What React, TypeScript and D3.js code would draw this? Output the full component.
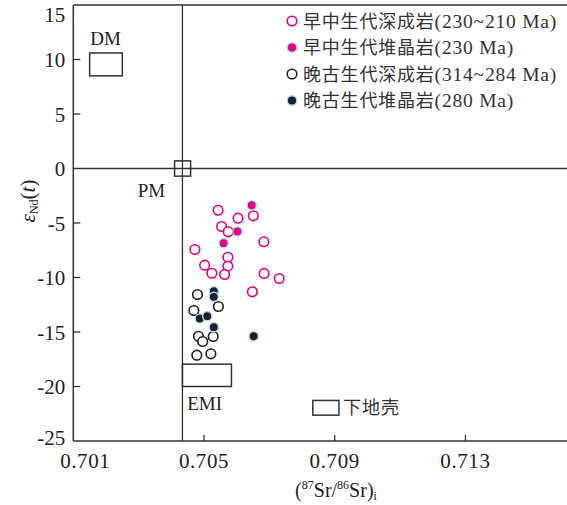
import React from "react";
import * as d3 from "d3";

// ---- data ----
// [87Sr/86Sr(i), εNd(t)]
const mesoPlutonic: [number, number][] = [
  [0.70543, -3.83], [0.70651, -4.34], [0.70604, -4.56], [0.70554, -5.32],
  [0.70574, -5.81], [0.70683, -6.72], [0.70472, -7.43], [0.70573, -8.14],
  [0.70502, -8.87], [0.70573, -8.96], [0.70524, -9.61], [0.70563, -9.72],
  [0.70684, -9.63], [0.7073, -10.09], [0.70648, -11.31],
];
const mesoCumulate: [number, number][] = [
  [0.70646, -3.37], [0.70602, -5.78], [0.7056, -6.85],
];
const paleoPlutonic: [number, number][] = [
  [0.7048, -11.56], [0.70544, -12.66], [0.70469, -13.03], [0.70483, -15.39],
  [0.70496, -15.87], [0.70528, -15.41], [0.70478, -17.13], [0.70521, -17.0],
];
const paleoCumulate: [number, number][] = [
  [0.7053, -11.26], [0.7053, -11.77], [0.70487, -13.76], [0.7051, -13.55],
  [0.7053, -14.56], [0.70652, -15.39],
];

const legendNames = [
  "早中生代深成岩(230~210 Ma)",
  "早中生代堆晶岩(230 Ma)",
  "晚古生代深成岩(314~284 Ma)",
  "晚古生代堆晶岩(280 Ma)",
];

const xTicks = [0.701, 0.705, 0.709, 0.713];
const yTicks = [-25, -20, -15, -10, -5, 0, 5, 10, 15];

// reservoir boxes: Sr range, Nd range
const boxes = [
  { name: "DM", sr: [0.7015, 0.7025], nd: [8.5, 10.6] },
  { name: "PM", sr: [0.7041, 0.70459], nd: [-0.7, 0.7] },
  { name: "EMI", sr: [0.70434, 0.70584], nd: [-20.0, -17.95] },
];
const lowerCrustKey = { name: "下地壳", sr: [0.70833, 0.70913], nd: [-22.63, -21.28] };
const bulkEarthSr = 0.70434;

const W = 567;
const H = 505;
const serif = "'Liberation Serif', 'Times New Roman', 'Noto Sans CJK SC', serif";
const pink = "#e5007f";
const dark = "#1e1e28";

export default function App() {
  const x = d3.scaleLinear().domain([0.701, 0.7162]).range([73.3, 570]);
  const y = d3.scaleLinear().domain([-25, 15]).range([441, 5]);
  const fmt = d3.format(".3f");

  const series = [
    { data: mesoPlutonic, fill: "#fff", stroke: pink, filled: false },
    { data: mesoCumulate, fill: pink, stroke: "#a9dcef", filled: true },
    { data: paleoPlutonic, fill: "#fff", stroke: dark, filled: false },
    { data: paleoCumulate, fill: dark, stroke: "#a9dcef", filled: true },
  ];

  const left = x(0.701);
  const right = x(0.7162);
  const top = y(15);
  const bottom = y(-25);

  const rect = (b: { sr: number[]; nd: number[] }) => ({
    x: x(b.sr[0]),
    y: y(b.nd[1]),
    width: x(b.sr[1]) - x(b.sr[0]),
    height: y(b.nd[0]) - y(b.nd[1]),
  });

  return (
    <svg
      width={W}
      height={H}
      style={{ position: "absolute", left: 0, top: 0, background: "#fff" }}
      fontFamily={serif}
    >
      {/* frame */}
      <g stroke="#333" strokeWidth={1.5} fill="none">
        <line x1={left} x2={right} y1={top} y2={top} />
        <line x1={left} x2={right} y1={bottom} y2={bottom} />
        <line x1={left} x2={left} y1={top} y2={bottom} />
        <line x1={left} x2={right} y1={y(0)} y2={y(0)} strokeWidth={1.3} />
        <line x1={x(bulkEarthSr)} x2={x(bulkEarthSr)} y1={top} y2={bottom} strokeWidth={1.3} />
      </g>

      {/* y ticks */}
      {yTicks.map((t) => (
        <g key={"y" + t}>
          {t > -25 && t < 15 && t !== 0 && (
            <line x1={left} x2={left + 7} y1={y(t)} y2={y(t)} stroke="#333" strokeWidth={1.3} />
          )}
          <text
            x={left - 8}
            y={y(t)}
            dy={t === 15 ? 17 : t === -25 ? 4 : 7.5}
            textAnchor="end"
            fontSize={21}
            fill="#222"
          >
            {String(t)}
          </text>
        </g>
      ))}

      {/* x ticks */}
      {xTicks.map((t, i) => (
        <g key={"x" + t}>
          {i > 0 && (
            <line x1={x(t)} x2={x(t)} y1={bottom} y2={bottom - 6} stroke="#333" strokeWidth={1.3} />
          )}
          <text
            x={x(t) + (i === 0 ? 12 : 0)}
            y={bottom + 27}
            textAnchor="middle"
            fontSize={21}
            letterSpacing={0.6}
            fill="#222"
          >
            {fmt(t)}
          </text>
        </g>
      ))}

      {/* axis titles */}
      <text x={336} y={497} textAnchor="middle" fontSize={20} fill="#222">
        (<tspan fontSize={12} dy={-8}>87</tspan>
        <tspan dy={8}>Sr/</tspan>
        <tspan fontSize={12} dy={-8}>86</tspan>
        <tspan dy={8}>Sr)</tspan>
        <tspan fontSize={12} dy={3}>i</tspan>
      </text>
      <text transform="translate(35,201) rotate(-90)" textAnchor="middle" fontSize={21} fill="#222">
        <tspan fontStyle="italic">ε</tspan>
        <tspan fontSize={12} dy={3}>Nd</tspan>
        <tspan dy={-3}>(</tspan>
        <tspan fontStyle="italic">t</tspan>
        <tspan>)</tspan>
      </text>

      {/* reservoir boxes */}
      {boxes.map((b) => {
        const r = rect(b);
        return <rect key={b.name} {...r} fill="none" stroke="#333" strokeWidth={1.5} />;
      })}
      <text x={x(0.70199)} y={y(11.3)} textAnchor="middle" fontSize={19} fill="#222">
        DM
      </text>
      <text x={x(0.70339)} y={y(-2.6)} textAnchor="middle" fontSize={19} fill="#222">
        PM
      </text>
      <text x={x(0.70502)} y={y(-22.2)} textAnchor="middle" fontSize={19} fill="#222">
        EMI
      </text>
      <rect {...rect(lowerCrustKey)} fill="none" stroke="#333" strokeWidth={1.5} />
      <text
        x={x(lowerCrustKey.sr[1]) + 4}
        y={y(-21.95) + 6}
        fontSize={18}
        letterSpacing={1}
        fill="#333"
        fontFamily="'Noto Sans CJK SC', sans-serif"
      >
        {lowerCrustKey.name}
      </text>

      {/* points */}
      {series.map((s, si) => (
        <g key={"s" + si}>
          {s.data.map((d, i) => (
            <circle
              key={i}
              cx={x(d[0])}
              cy={y(d[1])}
              r={s.filled ? 4.6 : 4.8}
              fill={s.fill}
              stroke={s.stroke}
              strokeWidth={s.filled ? 1.4 : 1.6}
            />
          ))}
        </g>
      ))}

      {/* legend */}
      {legendNames.map((name, i) => {
        const s = series[i];
        const cy = 21 + i * 26.5;
        const cut = name.indexOf("(");
        return (
          <g key={name}>
            <circle
              cx={292}
              cy={cy}
              r={4.8}
              fill={s.fill}
              stroke={s.stroke}
              strokeWidth={s.filled ? 1.4 : 1.6}
            />
            <text x={303} y={cy + 6.5} fontSize={18} letterSpacing={0.8} fill="#333">
              {name.slice(0, cut)}
              <tspan fontSize={19.5}>{name.slice(cut)}</tspan>
            </text>
          </g>
        );
      })}
    </svg>
  );
}
